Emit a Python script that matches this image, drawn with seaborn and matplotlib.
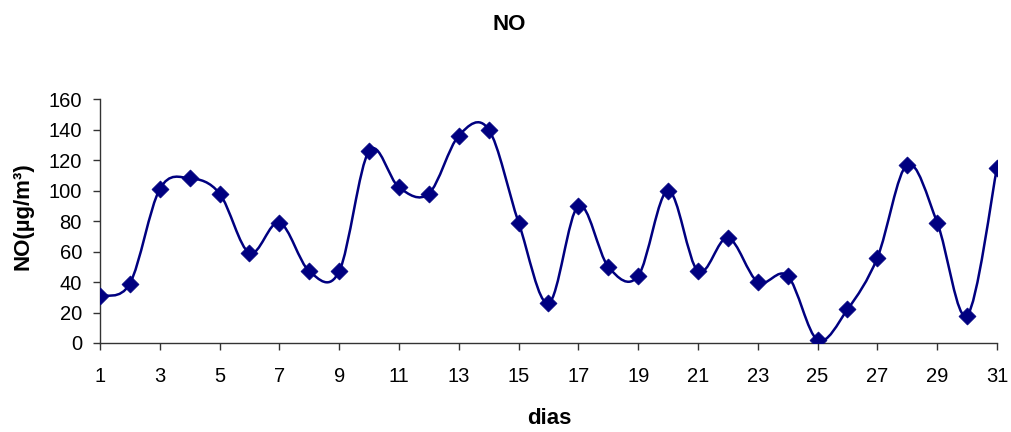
import matplotlib
matplotlib.use("Agg")
import matplotlib.pyplot as plt
from matplotlib.path import Path
from matplotlib.patches import PathPatch
import numpy as np
import pandas as pd
import seaborn as sns

dias = list(range(1, 32))
no_values = [31, 39, 101, 108, 98, 59, 79, 47, 47, 126,
             102, 98, 136, 140, 79, 26, 90, 50, 44, 100,
             47, 69, 40, 44, 2, 22, 56, 117, 79, 18, 115]
x_ticks = list(range(1, 32, 2))
y_ticks = list(range(0, 161, 20))

navy = "#000080"

sns.set_style("ticks")
plt.rcParams["font.family"] = ["Liberation Sans", "DejaVu Sans"]
plt.rcParams["text.color"] = "black"

df = pd.DataFrame({"dias": dias, "NO": no_values})

fig = plt.figure(figsize=(10.12, 4.32), dpi=100)
ax = fig.add_axes([100 / 1012, 89 / 432, 897 / 1012, 244 / 432])

# smoothed line through the points (bezier, like the spreadsheet's smooth line)
pts = df[["dias", "NO"]].to_numpy(dtype=float)
n = len(pts)
verts = [pts[0]]
codes = [Path.MOVETO]
for i in range(n - 1):
    p0 = pts[max(i - 1, 0)]
    p1 = pts[i]
    p2 = pts[i + 1]
    p3 = pts[min(i + 2, n - 1)]
    verts += [p1 + (p2 - p0) / 6, p2 - (p3 - p1) / 6, p2]
    codes += [Path.CURVE4] * 3
ax.add_patch(PathPatch(Path(verts, codes), facecolor="none",
                       edgecolor=navy, lw=1.8, zorder=2))

sns.scatterplot(data=df, x="dias", y="NO", marker="D", s=75,
                color=navy, edgecolor=navy, linewidth=0.5, zorder=3, ax=ax)

ax.set_xlim(1, 31)
ax.set_ylim(0, 160)
ax.set_xticks(x_ticks)
ax.set_yticks(y_ticks)
ax.tick_params(axis="both", labelsize=14.5, length=5, width=1,
               color="#333333", labelcolor="black", direction="out")
ax.tick_params(axis="x", pad=12)
ax.tick_params(axis="y", pad=8)
for side in ["top", "right"]:
    ax.spines[side].set_visible(False)
for side in ["left", "bottom"]:
    ax.spines[side].set_color("#333333")
    ax.spines[side].set_linewidth(1)
ax.set_xlabel("")
ax.set_ylabel("")

fig.text(509 / 1012, 1 - 29.5 / 432, "NO", ha="center", va="baseline",
         fontsize=16, fontweight="bold")
fig.text(549 / 1012, 1 - 424 / 432, "dias", ha="center", va="baseline",
         fontsize=16, fontweight="bold")
fig.text(23 / 1012, 1 - 216 / 432, "NO(µg/m³)", ha="center", va="center",
         rotation=90, fontsize=16, fontweight="bold")

fig.savefig("out.png", dpi=100)
